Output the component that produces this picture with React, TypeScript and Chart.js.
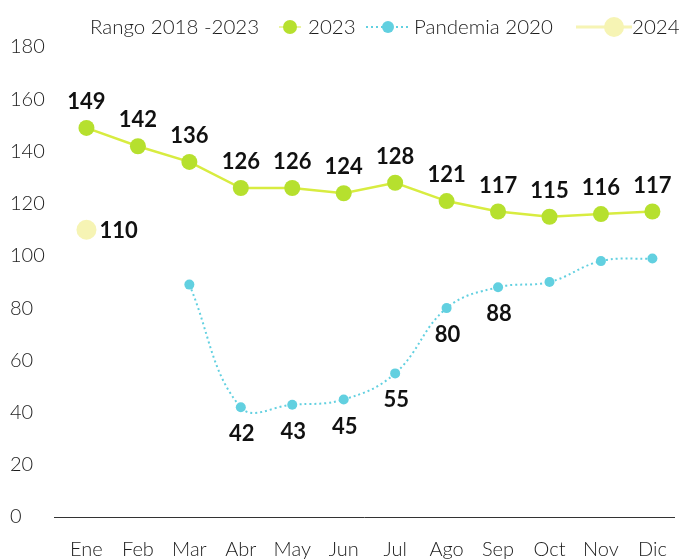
import React, { useEffect, useRef } from "react";
import { Chart, registerables } from "chart.js";

Chart.register(...registerables);

// ---- data ----
const months = ["Ene", "Feb", "Mar", "Abr", "May", "Jun", "Jul", "Ago", "Sep", "Oct", "Nov", "Dic"];
const yTickValues = [0, 20, 40, 60, 80, 100, 120, 140, 160, 180];
const rangoLabel = "Rango 2018 -2023";
const label2023 = "2023";
const labelPandemia = "Pandemia 2020";
const label2024 = "2024";
const serie2023 = [149, 142, 136, 126, 126, 124, 128, 121, 117, 115, 116, 117];
const pandemia2020: (number | null)[] = [null, null, 89, 42, 43, 45, 55, 80, 88, 90, 98, 99];
const pandemiaLabelled = [3, 4, 5, 6, 7, 8];
const serie2024 = [110];

// ---- styles ----
const GREEN_LINE = "#d8ec40";
const GREEN_DOT = "#b6e02e";
const CYAN = "#62d0e0";
const YELLOW = "#f6f4b4";
const TEXT = "#1c1c1c";
const FONT = "Lato, 'Open Sans', sans-serif";

const toPoints = (arr: (number | null)[]) => arr.map((v, i) => ({ x: i, y: v }));

const legendPlugin = {
  id: "customLegend",
  afterDraw(chart: any) {
    const ctx = chart.ctx;
    const ds = chart.data.datasets;
    const y = 27;
    ctx.save();
    ctx.font = `300 20.5px ${FONT}`;
    ctx.fillStyle = TEXT;
    ctx.textBaseline = "middle";
    ctx.textAlign = "left";
    // Rango (no marker)
    ctx.fillText(ds[3].label, 90, y);
    // 2023
    ctx.strokeStyle = GREEN_LINE;
    ctx.lineWidth = 2;
    ctx.globalAlpha = 0.5;
    ctx.beginPath();
    ctx.moveTo(279, y);
    ctx.lineTo(301, y);
    ctx.stroke();
    ctx.globalAlpha = 1;
    ctx.fillStyle = GREEN_DOT;
    ctx.beginPath();
    ctx.arc(290, y, 7, 0, Math.PI * 2);
    ctx.fill();
    ctx.fillStyle = TEXT;
    ctx.fillText(ds[0].label, 308, y);
    // Pandemia
    ctx.strokeStyle = CYAN;
    ctx.lineWidth = 2;
    ctx.setLineDash([2, 3]);
    ctx.beginPath();
    ctx.moveTo(366, y);
    ctx.lineTo(410, y);
    ctx.stroke();
    ctx.setLineDash([]);
    ctx.fillStyle = CYAN;
    ctx.beginPath();
    ctx.arc(388, y, 6, 0, Math.PI * 2);
    ctx.fill();
    ctx.fillStyle = TEXT;
    ctx.fillText(ds[1].label, 414, y);
    // 2024
    ctx.strokeStyle = YELLOW;
    ctx.lineWidth = 3;
    ctx.beginPath();
    ctx.moveTo(576, y);
    ctx.lineTo(632, y);
    ctx.stroke();
    ctx.fillStyle = YELLOW;
    ctx.beginPath();
    ctx.arc(614, y, 10, 0, Math.PI * 2);
    ctx.fill();
    ctx.fillStyle = TEXT;
    ctx.fillText(ds[2].label, 632, y);
    ctx.restore();
  },
};

const valueLabelPlugin = {
  id: "valueLabels",
  afterDatasetsDraw(chart: any) {
    const ctx = chart.ctx;
    ctx.save();
    ctx.font = `bold 22px ${FONT}`;
    ctx.fillStyle = "#111";
    ctx.textBaseline = "middle";
    // 2023: above
    const m0 = chart.getDatasetMeta(0);
    ctx.textAlign = "center";
    m0.data.forEach((pt: any, i: number) => {
      ctx.fillText(String(serie2023[i]), pt.x, pt.y - 26);
    });
    // Pandemia: below
    const m1 = chart.getDatasetMeta(1);
    pandemiaLabelled.forEach((i) => {
      const pt = m1.data[i];
      const v = pandemia2020[i];
      if (pt && v != null) ctx.fillText(String(v), pt.x + 1, pt.y + 27);
    });
    // 2024: right
    const m2 = chart.getDatasetMeta(2);
    ctx.textAlign = "left";
    m2.data.forEach((pt: any, i: number) => {
      ctx.fillText(String(serie2024[i]), pt.x + 13, pt.y + 1);
    });
    ctx.restore();
  },
};

export default function App() {
  const ref = useRef<HTMLCanvasElement | null>(null);

  useEffect(() => {
    if (!ref.current) return;
    const chart = new Chart(ref.current, {
      type: "line",
      data: {
        datasets: [
          {
            label: label2023,
            data: toPoints(serie2023),
            borderColor: GREEN_LINE,
            borderWidth: 2.5,
            pointRadius: 8,
            pointBackgroundColor: GREEN_DOT,
            pointBorderWidth: 0,
            tension: 0,
            order: 1,
          },
          {
            label: labelPandemia,
            data: toPoints(pandemia2020),
            borderColor: CYAN,
            borderWidth: 2,
            borderDash: [2, 3],
            pointRadius: 5,
            pointBackgroundColor: CYAN,
            pointBorderWidth: 0,
            tension: 0.4,
            spanGaps: false,
            order: 2,
          },
          {
            label: label2024,
            data: toPoints(serie2024),
            borderColor: YELLOW,
            pointRadius: 10,
            pointBackgroundColor: YELLOW,
            pointBorderWidth: 0,
            showLine: false,
            order: 3,
          },
          {
            label: rangoLabel,
            data: [],
          },
        ],
      },
      options: {
        animation: false,
        responsive: false,
        maintainAspectRatio: false,
        layout: { padding: { top: 47, left: 10, right: 0, bottom: 0 } },
        plugins: {
          legend: { display: false },
          tooltip: { enabled: false },
        },
        scales: {
          x: {
            type: "linear",
            min: -0.631,
            max: 11.42,
            grid: { display: false },
            border: { display: true, color: "#333", width: 1 },
            afterBuildTicks: (scale: any) => {
              scale.ticks = months.map((_, i) => ({ value: i }));
            },
            afterFit: (scale: any) => {
              scale.height = 42;
            },
            ticks: {
              autoSkip: false,
              maxRotation: 0,
              padding: 13,
              color: TEXT,
              font: { family: FONT, size: 20, weight: "300" as any },
              callback: (v: any) => months[v] ?? "",
            },
          },
          y: {
            min: 0,
            max: 180,
            grid: { display: false },
            border: { display: false },
            afterBuildTicks: (scale: any) => {
              scale.ticks = yTickValues.map((v) => ({ value: v }));
            },
            afterFit: (scale: any) => {
              scale.width = 44;
            },
            ticks: {
              crossAlign: "far",
              padding: 8,
              color: TEXT,
              font: { family: FONT, size: 20, weight: "300" as any },
            },
          },
        },
      },
      plugins: [legendPlugin, valueLabelPlugin],
    });
    return () => chart.destroy();
  }, []);

  return (
    <div style={{ position: "fixed", left: 0, top: 0, width: 684, height: 559, background: "#fff" }}>
      <canvas ref={ref} width={684} height={559} style={{ width: 684, height: 559 }} />
    </div>
  );
}
